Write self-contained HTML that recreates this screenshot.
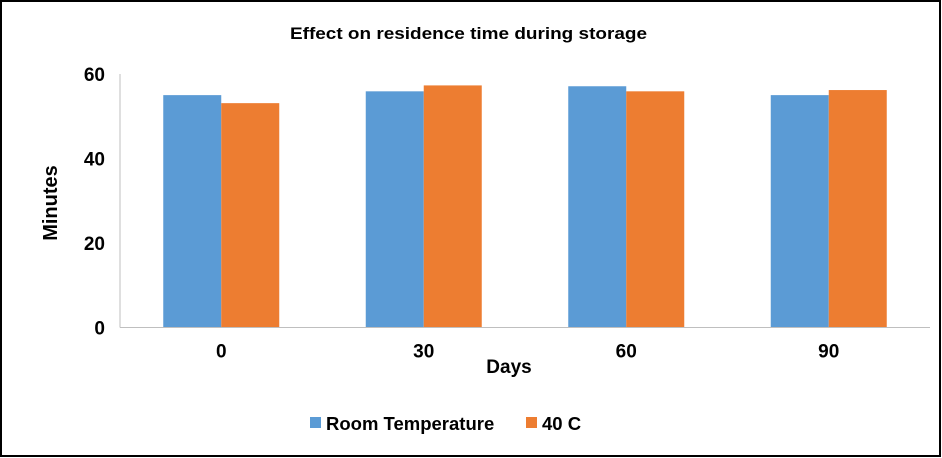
<!DOCTYPE html>
<html><head><meta charset="utf-8"><style>
html,body{margin:0;padding:0;background:#fff;}
svg{display:block;font-family:"Liberation Sans",Arial,sans-serif;font-weight:bold;}
</style></head><body>
<svg id="chart" width="942" height="458" viewBox="0 0 942 458">
<rect x="1" y="1" width="939" height="455" fill="#fff" stroke="#000" stroke-width="2"/>
<text x="290" y="39" font-size="17" textLength="357" lengthAdjust="spacingAndGlyphs">Effect on residence time during storage</text>
<g id="bars"></g>
<g id="axes"></g>
<text transform="translate(57,203) rotate(-90)" text-anchor="middle" font-size="20">Minutes</text>
<text x="509" y="373" text-anchor="middle" font-size="19">Days</text>
<g>
<g><rect x="310" y="417" width="11" height="11" fill="#5b9bd5"/><text x="326" y="430" font-size="18.5">Room Temperature</text></g>
<g><rect x="526" y="417" width="11" height="11" fill="#ed7d31"/><text x="542" y="430" font-size="18.5">40 C</text></g>
</g>
</svg>
<script>
const categories = ["0","30","60","90"];
const roomTemp = [55, 55.9, 57.1, 55];
const temp40 = [53.1, 57.3, 55.9, 56.2];
const yTicks = [0, 20, 40, 60];
const NS="http://www.w3.org/2000/svg";
const x0=120,x1=930,yb=327.5,yt=74,ymax=60;
const band=(x1-x0)/categories.length, bw=58;
const y=v=>yb-(v/ymax)*(yb-yt);
const bars=document.getElementById('bars'), axes=document.getElementById('axes');
function mk(t,a,p){const e=document.createElementNS(NS,t);for(const k in a)e.setAttribute(k,a[k]);p.appendChild(e);return e;}
categories.forEach((c,i)=>{
  const cx=x0+band*(i+0.5);
  const b1=mk('rect',{x:cx-bw,y:y(roomTemp[i]),width:bw,height:yb-y(roomTemp[i]),fill:'#5b9bd5'},bars);
  
  
  const b2=mk('rect',{x:cx,y:y(temp40[i]),width:bw,height:yb-y(temp40[i]),fill:'#ed7d31'},bars);
  
  
  const t=mk('text',{x:cx,y:yb+30,'text-anchor':'middle','font-size':19},axes);
  t.textContent=c;
  
  
});
yTicks.forEach(v=>{
  const t=mk('text',{x:105,y:y(v)+7,'text-anchor':'end','font-size':19},axes);
  t.textContent=v;
  
  
});
const ya=mk('line',{x1:x0,y1:yt,x2:x0,y2:yb,stroke:'#bfbfbf','stroke-width':1},axes);


const xa=mk('line',{x1:x0,y1:yb,x2:x1,y2:yb,stroke:'#bfbfbf','stroke-width':1},axes);


</script>
</body></html>
